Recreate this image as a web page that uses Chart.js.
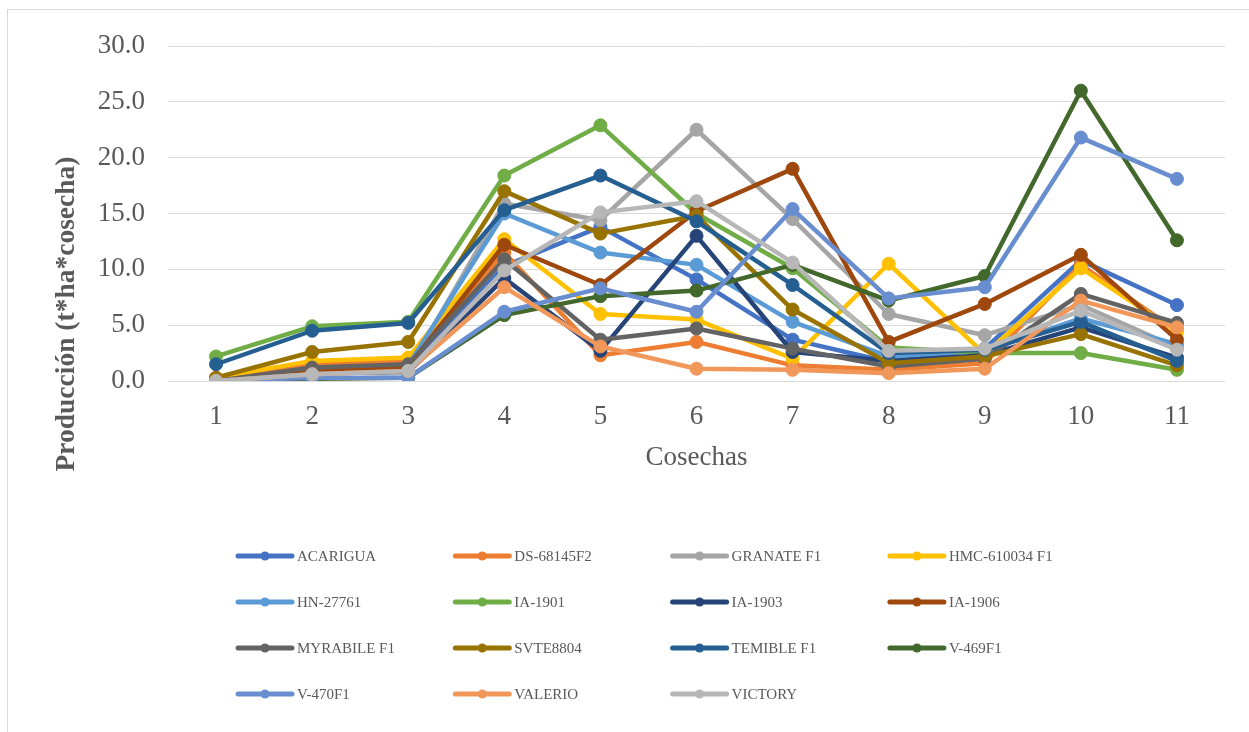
<!DOCTYPE html>
<html>
<head>
<meta charset="utf-8">
<script src="https://cdn.jsdelivr.net/npm/chart.js@4/dist/chart.umd.min.js"></script>
<style>
  html, body { margin: 0; padding: 0; background: #ffffff; }
  #wrap { width: 1249px; height: 732px; }
</style>
</head>
<body>
<div id="wrap"><canvas id="chart" width="1249" height="732"></canvas></div>
<script>
// Harvest numbers on the x axis
const cosechas = ['1', '2', '3', '4', '5', '6', '7', '8', '9', '10', '11'];

// Yield per harvest (t*ha*cosecha) for each variety
const acarigua   = [0.0, 1.0, 1.2, 10.3, 13.8,  9.1,  3.7,  1.7, 2.9, 10.8,  6.8];
const ds68145f2  = [0.0, 1.5, 1.8, 11.5,  2.3,  3.5,  1.4,  1.0, 1.6, 10.4,  4.5];
const granateF1  = [0.0, 0.8, 1.0, 15.9, 14.4, 22.5, 14.5,  6.0, 4.1,  6.8,  3.0];
const hmc610034  = [0.3, 1.8, 2.1, 12.7,  6.0,  5.5,  2.0, 10.5, 2.4, 10.1,  4.4];
const hn27761    = [0.0, 0.9, 1.4, 15.0, 11.5, 10.4,  5.3,  2.2, 2.7,  5.6,  3.3];
const ia1901     = [2.2, 4.9, 5.3, 18.4, 22.9, 15.0, 10.1,  3.0, 2.5,  2.5,  1.0];
const ia1903     = [0.0, 0.7, 0.8,  9.2,  2.7, 13.0,  2.6,  1.8, 2.3,  4.8,  2.1];
const ia1906     = [0.0, 0.8, 1.3, 12.2,  8.6, 15.2, 19.0,  3.5, 6.9, 11.3,  3.7];
const myrabileF1 = [0.0, 1.2, 1.5, 10.9,  3.7,  4.7,  2.9,  1.3, 2.0,  7.8,  5.2];
const svte8804   = [0.3, 2.6, 3.5, 17.0, 13.2, 14.8,  6.4,  1.6, 2.2,  4.2,  1.4];
const temibleF1  = [1.5, 4.5, 5.2, 15.3, 18.4, 14.3,  8.6,  2.5, 2.8,  5.3,  1.8];
const v469F1     = [0.0, 0.2, 0.3,  5.9,  7.6,  8.1, 10.4,  7.2, 9.4, 26.0, 12.6];
const v470F1     = [0.0, 0.3, 0.3,  6.2,  8.3,  6.2, 15.4,  7.4, 8.4, 21.8, 18.1];
const valerio    = [0.0, 0.6, 0.9,  8.4,  3.1,  1.1,  1.0,  0.7, 1.1,  7.2,  4.8];
const victory    = [0.0, 0.6, 0.9,  9.9, 15.1, 16.1, 10.6,  2.7, 2.9,  6.3,  2.8];

// Variety names and their colours, in legend order
const variedades = ['ACARIGUA', 'DS-68145F2', 'GRANATE F1', 'HMC-610034 F1', 'HN-27761',
                    'IA-1901', 'IA-1903', 'IA-1906', 'MYRABILE F1', 'SVTE8804',
                    'TEMIBLE F1', 'V-469F1', 'V-470F1', 'VALERIO', 'VICTORY'];
const series = [acarigua, ds68145f2, granateF1, hmc610034, hn27761,
                ia1901, ia1903, ia1906, myrabileF1, svte8804,
                temibleF1, v469F1, v470F1, valerio, victory];
const colores = ['#4472C4', '#ED7D31', '#A5A5A5', '#FFC000', '#5B9BD5',
                 '#70AD47', '#264478', '#9E480E', '#636363', '#997300',
                 '#255E91', '#43682B', '#698ED0', '#F1975A', '#B7B7B7'];

// Y tick values
const yTicks = [0, 5, 10, 15, 20, 25, 30];

const textColor = '#595959';
const serif = "'Liberation Serif', 'Times New Roman', serif";

const datasets = series.map((vals, i) => ({
  label: variedades[i],
  data: vals,
  borderColor: colores[i],
  backgroundColor: colores[i],
  borderWidth: 4.5,
  borderJoinStyle: 'round',
  borderCapStyle: 'round',
  pointRadius: 6.5,
  pointHoverRadius: 6.5,
  pointBorderWidth: 1,
  pointBorderColor: colores[i],
  pointBackgroundColor: colores[i],
  tension: 0,
  // later varieties are painted over earlier ones
  order: series.length - 1 - i
}));

// Outer frame, rotated y-axis title and the grid legend below the plot
const decorations = {
  id: 'decorations',
  beforeDraw(chart) {
    const ctx = chart.ctx;
    ctx.save();
    ctx.fillStyle = '#ffffff';
    ctx.fillRect(0, 0, chart.width, chart.height);
    ctx.strokeStyle = '#d9d9d9';
    ctx.lineWidth = 1;
    ctx.strokeRect(7.5, 9.5, chart.width + 20, chart.height + 20);
    ctx.restore();
  },
  afterDraw(chart) {
    const ctx = chart.ctx;
    ctx.save();
    // y-axis title
    ctx.translate(67, 314);
    ctx.rotate(-Math.PI / 2);
    ctx.font = 'bold 27.5px ' + serif;
    ctx.fillStyle = textColor;
    ctx.textAlign = 'center';
    ctx.textBaseline = 'middle';
    ctx.fillText('Producción (t*ha*cosecha)', 0, 0);
    ctx.restore();

    // legend: four columns
    ctx.save();
    ctx.font = '15px ' + serif;
    ctx.textBaseline = 'middle';
    ctx.textAlign = 'left';
    variedades.forEach((name, i) => {
      const col = i % 4;
      const row = Math.floor(i / 4);
      const x0 = 238 + col * 217.3;
      const y = 556 + row * 46;
      ctx.strokeStyle = colores[i];
      ctx.lineWidth = 5;
      ctx.lineCap = 'round';
      ctx.beginPath();
      ctx.moveTo(x0, y);
      ctx.lineTo(x0 + 54, y);
      ctx.stroke();
      ctx.fillStyle = colores[i];
      ctx.beginPath();
      ctx.arc(x0 + 27, y, 4.5, 0, Math.PI * 2);
      ctx.fill();
      ctx.fillStyle = textColor;
      ctx.fillText(name, x0 + 59, y + 1);
    });
    ctx.restore();
  }
};

new Chart(document.getElementById('chart'), {
  type: 'line',
  data: { labels: cosechas, datasets },
  options: {
    responsive: false,
    animation: false,
    events: [],
    layout: { padding: { top: 46, left: 0, right: 24, bottom: 251 } },
    plugins: {
      legend: { display: false },
      tooltip: { enabled: false },
      title: { display: false }
    },
    scales: {
      x: {
        offset: true,
        grid: { display: false, drawTicks: false },
        border: { display: false },
        ticks: {
          color: textColor,
          font: { family: serif, size: 27 },
          padding: 20,
          maxRotation: 0
        },
        title: {
          display: true,
          text: 'Cosechas',
          color: textColor,
          font: { family: serif, size: 27 },
          padding: { top: 0, bottom: 7 }
        },
        afterFit(scale) { scale.height = 100; }
      },
      y: {
        min: 0,
        max: 30,
        afterBuildTicks(scale) { scale.ticks = yTicks.map(v => ({ value: v })); },
        grid: { color: '#d9d9d9', lineWidth: 1, drawTicks: false },
        border: { display: false },
        ticks: {
          color: textColor,
          font: { family: serif, size: 27 },
          padding: 23,
          callback: v => Number(v).toFixed(1)
        },
        afterFit(scale) { scale.width = 168; }
      }
    }
  },
  plugins: [decorations]
});
</script>
</body>
</html>
